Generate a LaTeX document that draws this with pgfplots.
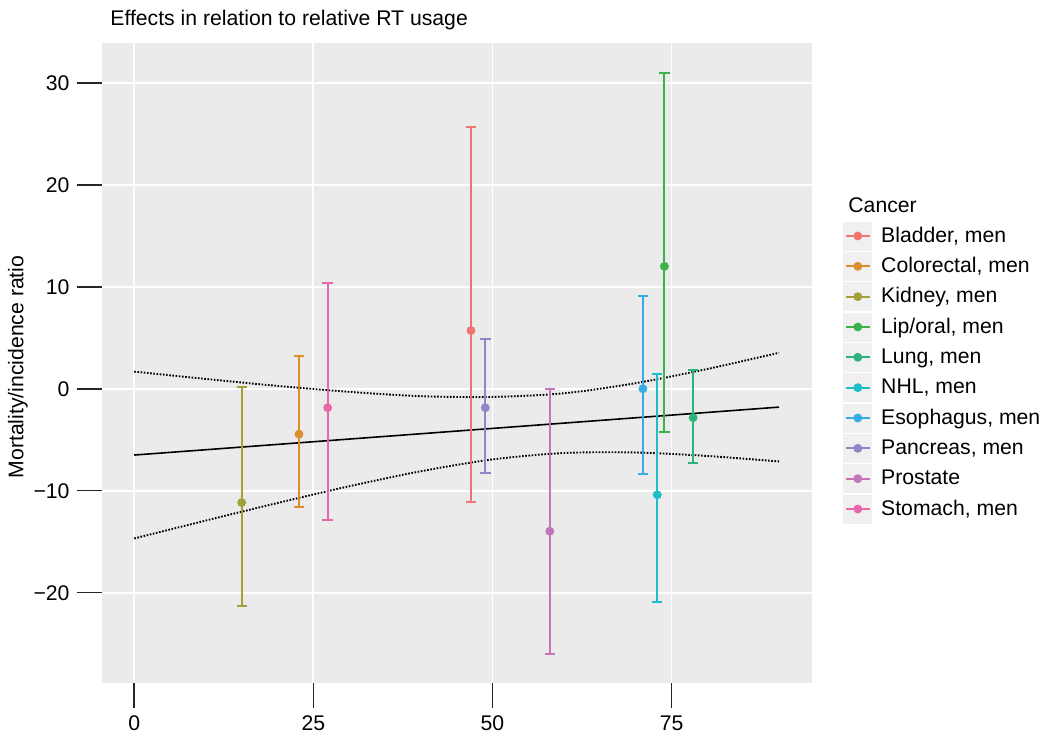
\documentclass[border=0pt]{standalone}
\usepackage{fontspec}
\setmainfont{Liberation Sans}
\usepackage{pgfplots}
\pgfplotsset{compat=1.18}
\definecolor{panelgray}{HTML}{EBEBEB}
\definecolor{keygray}{HTML}{F0F0F0}
\definecolor{cBladder}{HTML}{F07470}
\definecolor{cColorectal}{HTML}{DA8E2E}
\definecolor{cKidney}{HTML}{A3A03A}
\definecolor{cLip}{HTML}{3BB34A}
\definecolor{cLung}{HTML}{2CB57A}
\definecolor{cNHL}{HTML}{1EBDC8}
\definecolor{cEso}{HTML}{38AAE6}
\definecolor{cPanc}{HTML}{8C88C6}
\definecolor{cProst}{HTML}{C475B8}
\definecolor{cStom}{HTML}{E966A8}
\pgfplotsset{
  ebar/.style={
    color=#1, mark=*, mark size=2pt, only marks,
    error bars/.cd, y dir=both, y explicit,
    error bar style={line width=1pt, color=#1},
    error mark=-, error mark options={line width=1pt, mark size=2.6pt, color=#1, rotate=90}
  }
}
\newcommand{\fs}{\fontsize{10.6}{12.5}\selectfont}
\begin{document}
\fs
\begin{tikzpicture}
\path[use as bounding box] (-51pt,-25.5pt) rectangle (470pt,341.5pt);
\begin{axis}[
  at={(0,0)}, anchor=south west,
  scale only axis, width=355pt, height=320pt,
  xmin=-4.5, xmax=94.6, ymin=-28.85, ymax=33.9,
  axis background/.style={fill=panelgray},
  axis line style={draw=none},
  tick align=outside, tick pos=left,
  major tick length=12.5pt,
  tick style={black!85, line width=0.75pt},
  xtick={0,25,50,75},
  ytick={-20,-10,0,10,20,30},
  yticklabels={−20,−10,0,10,20,30},
  xticklabels={0,25,50,75},
  grid=major,
  major grid style={white, line width=0.9pt},
  ticklabel style={font=\fs},
  legend image code/.code={
    \fill[keygray] (0pt,-7pt) rectangle (14pt,7pt);
    \draw[line width=1pt] (1.2pt,0pt) -- (13pt,0pt);
    \fill (7pt,0pt) circle (2pt);
  },
  legend style={
    at={(rel axis cs:1.0442,0.7222)}, anchor=north west,
    draw=none, fill=none, inner sep=0pt, outer sep=0pt,
    row sep=0pt, column sep=4.5pt,
    font=\fs,
    nodes={anchor=west, inner sep=0pt, minimum height=15.17pt},
  },
  legend cell align=left,
  clip=false,
]
\addplot[forget plot, black, line width=0.8pt] coordinates {(0,-6.50) (90,-1.80)};
\addplot[forget plot, black, line width=0.95pt, dash pattern=on 0.8pt off 0.8pt, smooth] coordinates {
(0,1.68) (10,0.96) (20,0.28) (30,-0.30) (40,-0.73) (50,-0.80) (60,-0.44) (70,0.55) (80,1.94) (90,3.53)};
\addplot[forget plot, black, line width=0.95pt, dash pattern=on 0.8pt off 0.8pt, smooth] coordinates {
(0,-14.68) (10,-12.92) (20,-11.20) (30,-9.56) (40,-8.09) (50,-6.93) (60,-6.30) (70,-6.25) (80,-6.59) (90,-7.13)};
\addplot[ebar=cBladder] table[x=x,y=y,y error plus=ep,y error minus=em] {
x y ep em
47 5.70 20.00 16.76
};
\addlegendentry{Bladder, men}
\addplot[ebar=cColorectal] table[x=x,y=y,y error plus=ep,y error minus=em] {
x y ep em
23 -4.45 7.69 7.15
};
\addlegendentry{Colorectal, men}
\addplot[ebar=cKidney] table[x=x,y=y,y error plus=ep,y error minus=em] {
x y ep em
15 -11.16 11.36 10.14
};
\addlegendentry{Kidney, men}
\addplot[ebar=cLip] table[x=x,y=y,y error plus=ep,y error minus=em] {
x y ep em
74 12.00 19.00 16.28
};
\addlegendentry{Lip/oral, men}
\addplot[ebar=cLung] table[x=x,y=y,y error plus=ep,y error minus=em] {
x y ep em
78 -2.84 4.64 4.46
};
\addlegendentry{Lung, men}
\addplot[ebar=cNHL] table[x=x,y=y,y error plus=ep,y error minus=em] {
x y ep em
73 -10.40 11.80 10.50
};
\addlegendentry{NHL, men}
\addplot[ebar=cEso] table[x=x,y=y,y error plus=ep,y error minus=em] {
x y ep em
71 0.00 9.13 8.38
};
\addlegendentry{Esophagus, men}
\addplot[ebar=cPanc] table[x=x,y=y,y error plus=ep,y error minus=em] {
x y ep em
49 -1.86 6.70 6.41
};
\addlegendentry{Pancreas, men}
\addplot[ebar=cProst] table[x=x,y=y,y error plus=ep,y error minus=em] {
x y ep em
58 -13.97 13.97 12.03
};
\addlegendentry{Prostate}
\addplot[ebar=cStom] table[x=x,y=y,y error plus=ep,y error minus=em] {
x y ep em
27 -1.86 12.26 11.00
};
\addlegendentry{Stomach, men}
\end{axis}
\node[anchor=west, inner sep=0pt] at (4pt,331.5pt) {Effects in relation to relative RT usage};
\node[rotate=90, inner sep=0pt] at (-42pt,158pt) {Mortality/incidence ratio};
\node[anchor=west, inner sep=0pt] at (373pt,239pt) {Cancer};
\end{tikzpicture}
\end{document}
